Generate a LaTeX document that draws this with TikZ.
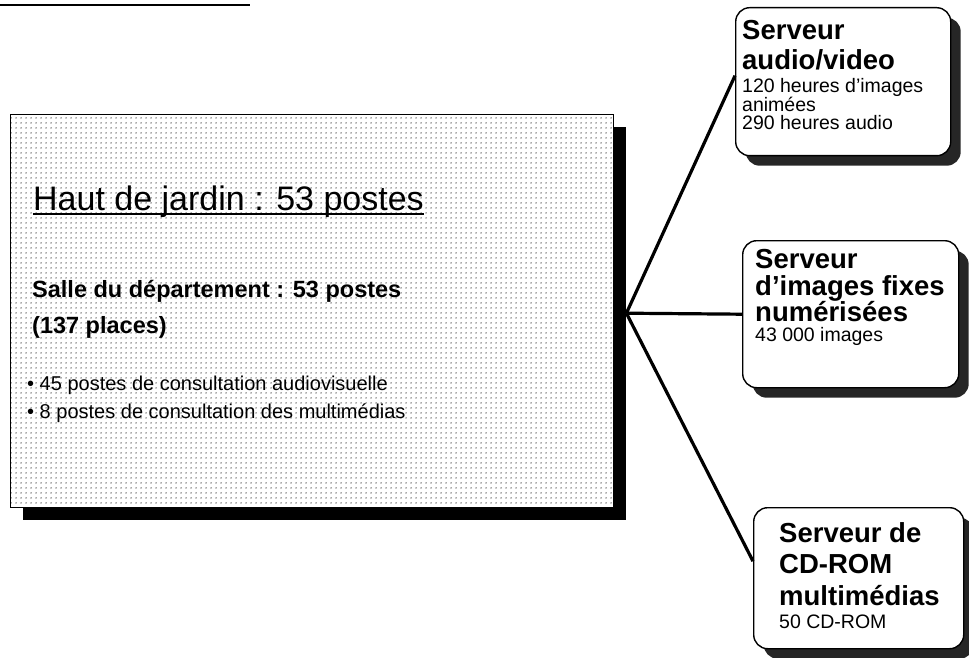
\documentclass[tikz,border=0pt]{standalone}
\usepackage{fontspec}
\setmainfont{Liberation Sans}
\usetikzlibrary{patterns,calc,shadows}
\pgfdeclarepatternformonly{scandots}{\pgfqpoint{0pt}{0pt}}{\pgfqpoint{4.5pt}{4.5pt}}{\pgfqpoint{4.5pt}{4.5pt}}{%
  \pgfpathcircle{\pgfqpoint{2.25pt}{2.25pt}}{0.8pt}\pgfusepath{fill}}
\tikzset{
  mainbox/.style={draw, line width=1.4pt, inner sep=0pt, anchor=north west,
    drop shadow={opacity=1, fill=black, shadow xshift=12pt, shadow yshift=-12pt},
    preaction={fill=white}, pattern=scandots, pattern color=black!80},
  srvbox/.style={draw, line width=1.4pt, inner sep=0pt, anchor=north west,
    rounded corners=14pt, fill=white,
    drop shadow={opacity=1, fill=black!85, shadow xshift=10pt, shadow yshift=-10pt}},
  conn/.style={line width=3.2pt},
  txt/.style={inner sep=0pt, anchor=base west},
  ttl/.style={txt, font=\fontsize{34}{40}\selectfont},
  hd/.style={txt, font=\bfseries\fontsize{23.5}{28}\selectfont},
  bl/.style={txt, font=\fontsize{20}{24}\selectfont},
  big/.style={txt, font=\bfseries\fontsize{27.5}{32}\selectfont},
  small/.style={txt, font=\fontsize{19.5}{23}\selectfont},
}
\begin{document}
\begin{tikzpicture}[x=1pt, y=-1pt]
\useasboundingbox (0,0) rectangle (969,658);
% cut-off rule at the top left
\coordinate (cut1) at (0,5);
\coordinate (cut2) at (250,5);
\draw[line width=2pt] (cut1) -- (cut2);
% main box
\node[mainbox, minimum width=603pt, minimum height=393pt] (main) at (10,114) {};
\node[ttl] (title) at (33,210) {Haut de jardin : 53 postes};
\draw[line width=2pt] ($(title.base west)+(0,3.5)$) -- ($(title.base east)+(0,3.5)$);
\node[hd] (salle1) at (32,297) {Salle du département : 53 postes};
\node[hd] (salle2) at (32,333) {(137 places)};
\node[bl] (bul1) at (27,390) {• 45 postes de consultation audiovisuelle};
\node[bl] (bul2) at (27,418) {• 8 postes de consultation des multimédias};
% servers
\node[srvbox, minimum width=215pt, minimum height=148pt] (s1) at (735,7) {};
\node[big] (s1a) at (742,40) {Serveur};
\node[big] (s1b) at (742,70) {audio/video};
\node[small] (s1c) at (742,93) {120 heures d'images};
\node[small] (s1d) at (742,112) {animées};
\node[small] (s1e) at (742,130) {290 heures audio};
\node[srvbox, minimum width=216pt, minimum height=147pt] (s2) at (742,240) {};
\node[big] (s2a) at (755,268) {Serveur};
\node[big] (s2b) at (755,295) {d'images fixes};
\node[big] (s2c) at (755,321) {numérisées};
\node[small] (s2d) at (755,341) {43 000 images};
\node[srvbox, minimum width=210pt, minimum height=141pt] (s3) at (753,507) {};
\node[big] (s3a) at (779,542) {Serveur de};
\node[big] (s3b) at (779,573) {CD-ROM};
\node[big] (s3c) at (779,605) {multimédias};
\node[small] (s3d) at (779,628) {50 CD-ROM};
% connectors
\coordinate (hub) at ($(main.east)+(12,2)$);
\draw[conn] (hub) -- ($(s1.west)+(0,-6)$);
\draw[conn] (hub) -- (s2.west);
\draw[conn] (hub) -- ($(s3.west)+(0,-17)$);
\end{tikzpicture}
\end{document}
